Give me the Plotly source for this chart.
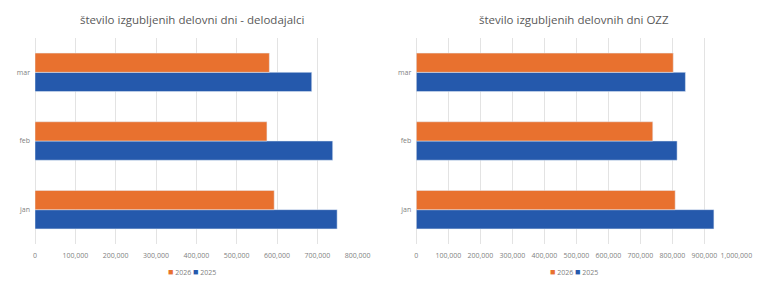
import plotly.graph_objects as go

months = ["jan", "feb", "mar"]
left_2026 = [593000, 575000, 581000]
left_2025 = [749000, 738000, 686000]
right_2026 = [809000, 739000, 803000]
right_2025 = [930000, 815000, 841000]
series_names = ["2026", "2025"]
left_title = "število izgubljenih delovni dni - delodajalci"
right_title = "število izgubljenih delovnih dni OZZ"

ORANGE = "#E8712F"
BLUE = "#2559AC"
FONT = "Open Sans"
GRID = "#e3e3e3"
TICK = "#7f7f7f"

fig = go.Figure()
fig.add_trace(go.Bar(y=months, x=left_2025, name=series_names[1], orientation="h",
                     marker_color=BLUE, xaxis="x", yaxis="y", showlegend=False))
fig.add_trace(go.Bar(y=months, x=left_2026, name=series_names[0], orientation="h",
                     marker_color=ORANGE, xaxis="x", yaxis="y", showlegend=False))
fig.add_trace(go.Bar(y=months, x=right_2025, name=series_names[1], orientation="h",
                     marker_color=BLUE, xaxis="x2", yaxis="y2", showlegend=False))
fig.add_trace(go.Bar(y=months, x=right_2026, name=series_names[0], orientation="h",
                     marker_color=ORANGE, xaxis="x2", yaxis="y2", showlegend=False))

ydom = [1 - 244 / 291, 1 - 38 / 291]
xd1 = [35 / 768, 357.7 / 768]
xd2 = [416.3 / 768, 736.3 / 768]

xcommon = dict(showgrid=True, gridcolor=GRID, gridwidth=1, zeroline=True, zerolinecolor=GRID,
               zerolinewidth=1, showline=False, tickformat=",d", ticks="", automargin=False,
               tickfont=dict(family=FONT, size=7, color=TICK), ticklabelstandoff=6,
               fixedrange=True)
ycommon = dict(showgrid=False, zeroline=False, showline=False, ticks="", automargin=False,
               tickfont=dict(family=FONT, size=7, color=TICK), ticklabelstandoff=4)

legend_text = (f"<span style='color:{ORANGE};font-size:9px'>■</span> {series_names[0]} "
               f"<span style='color:{BLUE};font-size:9px'>■</span> {series_names[1]}")

fig.update_layout(
    width=768, height=291,
    margin=dict(l=0, r=0, t=0, b=0, autoexpand=False),
    paper_bgcolor="white", plot_bgcolor="white",
    barmode="group", bargap=0.44, bargroupgap=0,
    showlegend=False,
    xaxis=dict(domain=xd1, range=[0, 800000], dtick=100000, anchor="y", **xcommon),
    yaxis=dict(domain=ydom, anchor="x", **ycommon),
    xaxis2=dict(domain=xd2, range=[0, 1000000], dtick=100000, anchor="y2", **xcommon),
    yaxis2=dict(domain=ydom, anchor="x2", **ycommon),
    annotations=[
        dict(text=left_title, x=192 / 768, y=1 - 20 / 291, xref="paper", yref="paper",
             xanchor="center", yanchor="middle", showarrow=False,
             font=dict(family=FONT, size=11.5, color="#595959")),
        dict(text=right_title, x=574 / 768, y=1 - 20 / 291, xref="paper", yref="paper",
             xanchor="center", yanchor="middle", showarrow=False,
             font=dict(family=FONT, size=11.5, color="#595959")),
        dict(text=legend_text, x=192 / 768, y=1 - 271.7 / 291, xref="paper", yref="paper",
             xanchor="center", yanchor="middle", showarrow=False,
             font=dict(family=FONT, size=7, color=TICK)),
        dict(text=legend_text, x=574 / 768, y=1 - 271.7 / 291, xref="paper", yref="paper",
             xanchor="center", yanchor="middle", showarrow=False,
             font=dict(family=FONT, size=7, color=TICK)),
    ],
)

fig.write_html("out.html")
